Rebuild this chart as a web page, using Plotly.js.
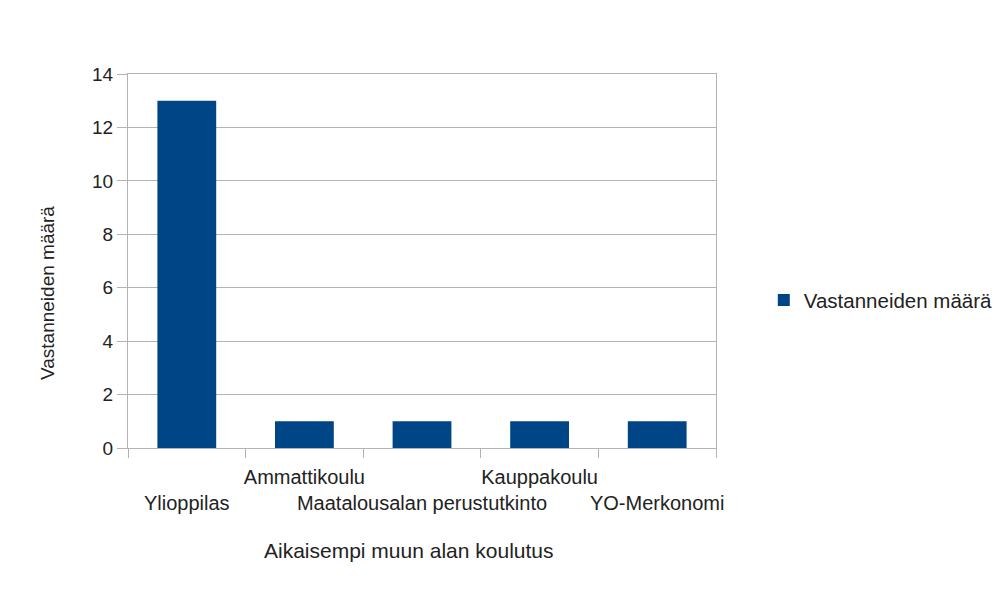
<!DOCTYPE html>
<html>
<head>
<meta charset="utf-8">
<script src="https://cdn.plot.ly/plotly-3.0.1.min.js"></script>
<style>
  body { margin: 0; background: #ffffff; }
  #chart { width: 1005px; height: 593px; }
</style>
</head>
<body>
<div id="chart"></div>
<script>
// chart data
const categories = ["Ylioppilas", "Ammattikoulu", "Maatalousalan perustutkinto", "Kauppakoulu", "YO-Merkonomi"];
const counts = [13, 1, 1, 1, 1];
const seriesName = "Vastanneiden määrä";
const xTitle = "Aikaisempi muun alan koulutus";
const yTitle = "Vastanneiden määrä";
const yTicks = [0, 2, 4, 6, 8, 10, 12, 14];

// labels alternate between two rows, like the original
const tickText = categories.map((c, i) => (i % 2 === 0 ? " <br>" + c : c));

const gray = "#b3b3b3";
const textColor = "#222222";
const font = "Liberation Sans, Arial, sans-serif";

let data = [
    {
        x: categories,
        y: counts,
        type: "bar",
        name: seriesName,
        marker: { color: "#004586" },
        hoverinfo: "x+y"
    }
];

let layout = {
    width: 1005,
    height: 593,
    margin: { l: 128, r: 289, t: 74, b: 145, autoexpand: false },
    paper_bgcolor: "#ffffff",
    plot_bgcolor: "#ffffff",
    font: { family: font, color: textColor, size: 19 },
    bargap: 0.5,
    showlegend: true,
    legend: {
        xref: "container", yref: "container",
        x: 0.760, y: 0.494, xanchor: "left", yanchor: "middle",
        font: { size: 20.5, color: textColor }
    },
    xaxis: {
        type: "category",
        tickvals: categories,
        ticktext: tickText,
        tickangle: 0,
        tickson: "boundaries",
        ticks: "outside",
        ticklen: 9,
        ticklabelstandoff: 11,
        tickcolor: gray,
        showline: true,
        linecolor: gray,
        mirror: true,
        showgrid: false,
        tickfont: { size: 20, color: textColor },
        automargin: false
    },
    yaxis: {
        range: [0, 14],
        tickvals: yTicks,
        ticks: "outside",
        ticklen: 10,
        tickcolor: gray,
        showline: true,
        linecolor: gray,
        mirror: true,
        gridcolor: gray,
        zeroline: false,
        tickfont: { size: 19, color: textColor },
        automargin: false
    },
    annotations: [
        {
            text: xTitle, xref: "paper", yref: "paper",
            x: 0.478, y: -0.273, showarrow: false,
            xanchor: "center", yanchor: "middle",
            font: { size: 21, color: textColor }
        },
        {
            text: yTitle, xref: "paper", yref: "paper",
            x: -0.138, y: 0.414, showarrow: false, textangle: -90,
            xanchor: "center", yanchor: "middle",
            font: { size: 19, color: textColor }
        }
    ]
};

Plotly.newPlot("chart", data, layout, { displayModeBar: false });
</script>
</body>
</html>
